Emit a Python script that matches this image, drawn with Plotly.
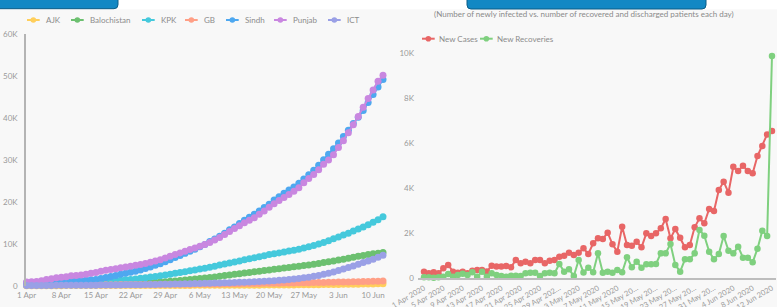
import plotly.graph_objects as go
import pandas as pd

W, H = 777, 307

dates = pd.date_range("2020-04-01", "2020-06-12", freq="D")

# ---- cumulative cases by province (left chart) ----
ajk = [
    6, 8, 9, 10, 11, 12, 13, 15, 18, 22,
    28, 32, 35, 38, 40, 42, 44, 45, 46, 48,
    50, 52, 54, 56, 58, 60, 62, 64, 66, 68,
    70, 72, 74, 76, 78, 80, 83, 86, 90, 94,
    98, 102, 106, 110, 115, 120, 126, 132, 140, 148,
    156, 165, 175, 185, 195, 205, 215, 225, 240, 255,
    270, 285, 300, 315, 330, 345, 360, 375, 390, 405,
    420, 440, 460]
balochistan = [
    160, 170, 175, 180, 190, 190, 200, 210, 210, 215,
    220, 220, 230, 240, 250, 270, 300, 330, 360, 400,
    440, 490, 540, 600, 660, 730, 800, 880, 960, 1050,
    1140, 1240, 1350, 1460, 1580, 1700, 1830, 1960, 2100, 2250,
    2400, 2550, 2700, 2850, 3000, 3150, 3300, 3450, 3600, 3750,
    3900, 4050, 4200, 4350, 4500, 4650, 4800, 4950, 5100, 5300,
    5500, 5700, 5900, 6100, 6300, 6550, 6800, 7000, 7200, 7400,
    7600, 7750, 7900]
kpk = [
    250, 260, 280, 300, 340, 370, 400, 430, 470, 500,
    560, 600, 640, 700, 800, 900, 1000, 1100, 1200, 1300,
    1400, 1500, 1620, 1750, 1900, 2050, 2200, 2380, 2560, 2750,
    2950, 3150, 3350, 3550, 3750, 3950, 4150, 4400, 4650, 4900,
    5150, 5400, 5650, 5900, 6150, 6400, 6650, 6900, 7150, 7400,
    7600, 7800, 8000, 8250, 8450, 8700, 8950, 9250, 9550, 9900,
    10300, 10700, 11150, 11600, 12050, 12500, 13000, 13500, 14000, 14500,
    15100, 15700, 16400]
gb = [
    190, 193, 196, 200, 205, 210, 213, 215, 216, 220,
    224, 228, 231, 233, 237, 240, 245, 250, 254, 258,
    262, 268, 275, 280, 290, 297, 305, 310, 320, 330,
    340, 350, 360, 370, 380, 390, 400, 410, 420, 430,
    440, 455, 470, 485, 500, 515, 530, 545, 560, 575,
    590, 605, 620, 640, 660, 680, 700, 720, 740, 760,
    785, 810, 835, 860, 880, 900, 925, 950, 975, 1000,
    1030, 1060, 1090]
sindh = [
    700, 740, 780, 820, 860, 900, 950, 1000, 1050, 1100,
    1150, 1220, 1300, 1400, 1500, 1700, 1950, 2200, 2450, 2700,
    2950, 3200, 3450, 3750, 4100, 4450, 4850, 5250, 5700, 6200,
    6700, 7200, 7700, 8200, 8700, 9250, 9800, 10500, 11100, 11800,
    12500, 13300, 14000, 14800, 15600, 16300, 17000, 17800, 18600, 19400,
    20400, 21200, 22000, 22800, 23500, 24400, 25400, 26400, 27500, 28700,
    30000, 31300, 32600, 34000, 35500, 37000, 38600, 40100, 41700, 43600,
    45500, 47300, 49100]
punjab = [
    900, 950, 1000, 1150, 1450, 1650, 1900, 2000, 2150, 2350,
    2450, 2550, 2750, 2950, 3150, 3450, 3700, 3850, 4050, 4250,
    4450, 4650, 4850, 5050, 5300, 5600, 5900, 6200, 6600, 7000,
    7400, 7800, 8200, 8600, 9000, 9400, 9800, 10300, 10900, 11500,
    12200, 12900, 13600, 14300, 15000, 15600, 16200, 17000, 17800, 18700,
    19500, 20300, 21000, 21700, 22500, 23300, 24500, 25500, 26500, 27600,
    28900, 29900, 31200, 32900, 34500, 36400, 38300, 40300, 42500, 44600,
    46600, 48700, 50100]
ict = [
    50, 55, 60, 65, 70, 75, 80, 85, 90, 95,
    100, 105, 110, 120, 130, 140, 150, 160, 170, 185,
    200, 215, 230, 250, 270, 290, 310, 330, 350, 375,
    400, 425, 450, 480, 510, 540, 570, 600, 630, 660,
    690, 720, 760, 800, 850, 900, 950, 1000, 1060, 1120,
    1200, 1290, 1380, 1480, 1590, 1720, 1870, 2040, 2230, 2450,
    2700, 2980, 3280, 3600, 3950, 4320, 4700, 5100, 5500, 5900,
    6300, 6750, 7250]

province_names = ["AJK", "Balochistan", "KPK", "GB", "Sindh", "Punjab", "ICT"]
province_values = [ajk, balochistan, kpk, gb, sindh, punjab, ict]
province_colors = ["#ffcf5c", "#6cc070", "#45c9dc", "#ff9f86", "#4ea8f0", "#c987e0", "#9aa0e6"]

# ---- daily new cases / recoveries (right chart) ----
new_cases = [
    296, 222, 267, 222, 444, 593, 296, 252, 296, 222,
    340, 370, 370, 300, 563, 519, 519, 548, 489, 815,
    667, 741, 667, 815, 815, 667, 785, 815, 963, 1007,
    1141, 1037, 1141, 1333, 1081, 1556, 1778, 1746, 2027, 1510,
    1184, 2294, 1480, 1450, 1628, 1376, 1998, 1880, 1998, 2220,
    2635, 1776, 2191, 1805, 1376, 1480, 2265, 2665, 2443, 3080,
    2990, 3923, 4293, 3805, 4960, 4767, 5005, 4767, 4664, 5434,
    5878, 6396, 6544]
new_recoveries = [
    44, 44, 30, 44, 74, 190, 74, 148, 200, 150,
    267, 74, 296, 74, 222, 148, 104, 74, 118, 118,
    104, 222, 252, 252, 104, 222, 252, 222, 637, 296,
    400, 104, 815, 260, 474, 267, 1111, 252, 296, 252,
    370, 267, 933, 489, 741, 474, 622, 622, 637, 1111,
    1111, 1526, 593, 296, 844, 844, 1111, 2148, 1896, 1185,
    844, 1081, 1881, 1228, 1110, 1406, 917, 917, 710, 1317,
    2116, 1880, 9878]
daily_names = ["New Cases", "New Recoveries"]
daily_colors = ["#e86666", "#7fd07f"]

left_yticks = [0, 10000, 20000, 30000, 40000, 50000, 60000]
left_yticktext = ["0", "10K", "20K", "30K", "40K", "50K", "60K"]
right_yticks = [0, 2000, 4000, 6000, 8000, 10000]
right_yticktext = ["0", "2K", "4K", "6K", "8K", "10K"]
right_xticktext = [
    "1 Apr 2020", "5 Apr 2020", "9 Apr 2020", "13 Apr 2020", "17 Apr 2020",
    "21 Apr 2020", "25 Apr 2020", "29 Apr 202…", "3 May 2020", "7 May 2020",
    "11 May 2020", "15 May 20…", "19 May 20…", "23 May 20…", "27 May 20…",
    "31 May 20…", "4 Jun 2020", "8 Jun 2020", "12 Jun 2020"]
subtitle = "(Number of newly infected vs. number of recovered and discharged patients each day)"

FONT = "Lato"
TXT = "#9a9a9a"
BG = "#f8f8f8"


def px(x):
    return x / W


def py(y):
    return 1 - y / H


fig = go.Figure()

for name, vals, col in zip(province_names, province_values, province_colors):
    fig.add_trace(go.Scatter(
        x=dates, y=vals, name=name, mode="lines+markers",
        line=dict(color=col, width=2), marker=dict(color=col, size=7),
        cliponaxis=False, showlegend=False, xaxis="x", yaxis="y"))

for name, vals, col in zip(daily_names, [new_cases, new_recoveries], daily_colors):
    fig.add_trace(go.Scatter(
        x=dates, y=vals, name=name, mode="lines+markers",
        line=dict(color=col, width=2), marker=dict(color=col, size=6.5),
        cliponaxis=False, showlegend=False, xaxis="x2", yaxis="y2"))

day = pd.Timedelta(days=1)
d0 = pd.Timestamp("2020-04-01")
# left axis geometry
lx0, lx1, lday, l_first = 26, 386, 4.95, 26.6
left_range = [d0 + day * ((lx0 - l_first) / lday), d0 + day * ((lx1 - l_first) / lday)]
# right axis geometry
rx0, rx1, rday, r_first = 418, 776, 4.833, 424
right_range = [d0 + day * ((rx0 - r_first) / rday), d0 + day * ((rx1 - r_first) / rday)]

tickfont = dict(family=FONT, size=8, color=TXT)

fig.update_layout(
    template="none",
    width=W, height=H,
    margin=dict(l=0, r=0, t=0, b=0, pad=0),
    paper_bgcolor=BG, plot_bgcolor=BG,
    font=dict(family=FONT, color=TXT, size=8),
    xaxis=dict(domain=[px(lx0), px(lx1)], type="date", range=left_range,
               tick0="2020-04-01", dtick=7 * 86400000, tickformat="%-d %b",
               showgrid=False, zeroline=False, showline=False, ticks="",
               automargin=False, tickfont=tickfont, ticklabelstandoff=3),
    yaxis=dict(domain=[py(285.7), py(33.7)], range=[0, 60000],
               tickvals=left_yticks, ticktext=left_yticktext,
               showgrid=False, zeroline=False, showline=True,
               linecolor="#b4b4b4", linewidth=1.5, ticks="",
               automargin=False, tickfont=tickfont, ticklabelstandoff=5),
    xaxis2=dict(domain=[px(rx0), px(rx1)], type="date", range=right_range,
                tickvals=list(dates[::4]), ticktext=right_xticktext, tickangle=-30,
                showgrid=False, zeroline=False, showline=True,
                linecolor="#bdbdbd", linewidth=1.5, ticks="",
                automargin=False, tickfont=dict(family=FONT, size=7.5, color=TXT),
                ticklabelstandoff=1, anchor="y2"),
    yaxis2=dict(domain=[py(278.3), py(53.3)], range=[0, 10000],
                tickvals=right_yticks, ticktext=right_yticktext,
                showgrid=False, zeroline=False, showline=False, ticks="",
                automargin=False, tickfont=tickfont, ticklabelstandoff=3, anchor="x2"),
)

shapes = []
annotations = []

# white strip at the top
shapes.append(dict(type="rect", xref="paper", yref="paper", x0=0, x1=1, y0=py(9.3), y1=1.01,
                   fillcolor="white", line=dict(width=0), layer="below"))


def rounded_bottom(x0, x1, y0, y1, r, left_round=True, right_round=True):
    pts = [f"M {px(x0)},{py(y0)}", f"L {px(x1)},{py(y0)}"]
    if right_round:
        pts += [f"L {px(x1)},{py(y1 - r)}", f"Q {px(x1)},{py(y1)} {px(x1 - r)},{py(y1)}"]
    else:
        pts += [f"L {px(x1)},{py(y1)}"]
    if left_round:
        pts += [f"L {px(x0 + r)},{py(y1)}", f"Q {px(x0)},{py(y1)} {px(x0)},{py(y1 - r)}"]
    else:
        pts += [f"L {px(x0)},{py(y1)}"]
    pts.append("Z")
    return " ".join(pts)


shapes.append(dict(type="path", xref="paper", yref="paper",
                   path=rounded_bottom(-3, 118, -3, 8.7, 4, left_round=False),
                   fillcolor="#1288c4", line=dict(color="#0b5c86", width=1)))
shapes.append(dict(type="path", xref="paper", yref="paper",
                   path=rounded_bottom(467, 706, -3, 9.0, 4),
                   fillcolor="#1288c4", line=dict(color="#0b5c86", width=1)))

annotations.append(dict(text=subtitle, xref="paper", yref="paper", x=px(584), y=py(14),
                        xanchor="center", yanchor="middle", showarrow=False,
                        font=dict(family=FONT, size=8, color="#8a8a8a")))


def legend_item(x, y, label, color, text_dx):
    shapes.append(dict(type="line", xref="paper", yref="paper",
                       x0=px(x), x1=px(x + 12.7), y0=py(y), y1=py(y),
                       line=dict(color=color, width=2)))
    r = 2.8
    cx = x + 6.35
    shapes.append(dict(type="circle", xref="paper", yref="paper",
                       x0=px(cx - r), x1=px(cx + r), y0=py(y + r), y1=py(y - r),
                       fillcolor=color, line=dict(color=color, width=0)))
    annotations.append(dict(text=label, xref="paper", yref="paper", x=px(x + text_dx), y=py(y),
                            xanchor="left", yanchor="middle", showarrow=False,
                            font=dict(family=FONT, size=8, color="#8c8c8c")))


left_legend_x = [27, 71, 142, 185, 226, 274, 328]
for lxp, name, col in zip(left_legend_x, province_names, province_colors):
    legend_item(lxp, 20, name, col, 17)

right_legend_x = [422, 480]
for rxp, name, col in zip(right_legend_x, daily_names, daily_colors):
    legend_item(rxp, 38.7, name, col, 15)

fig.update_layout(shapes=shapes, annotations=annotations)

fig.write_html(
    "out.html",
    config={"displayModeBar": False},
    post_script="document.body.style.margin='0';document.body.style.overflow='hidden';",
)
